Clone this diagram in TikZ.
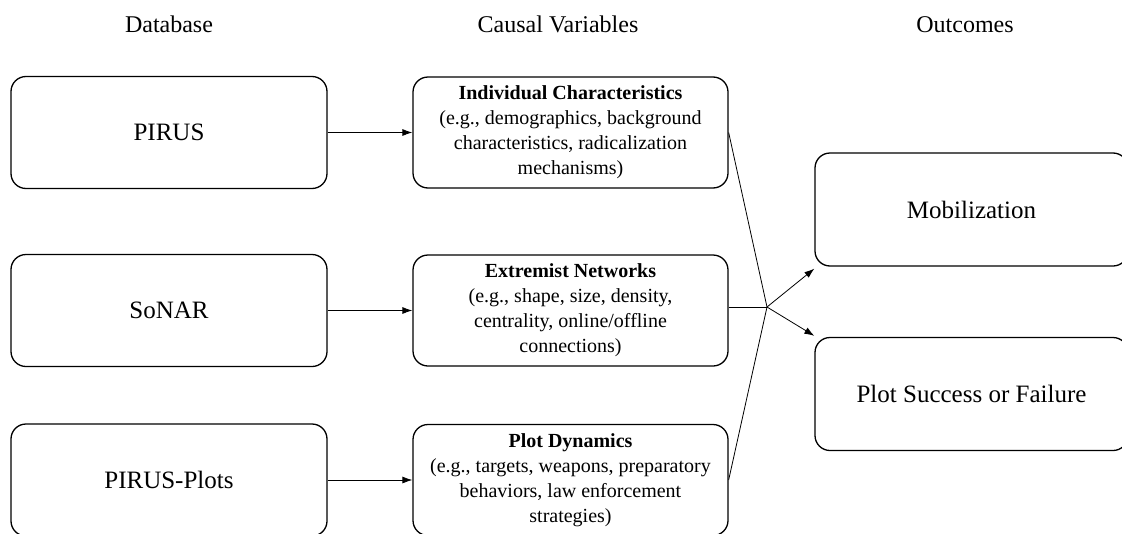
\documentclass[tikz,border=0pt]{standalone}
\usepackage{fontspec}
\setmainfont{Liberation Serif}
\usetikzlibrary{arrows.meta}
\begin{document}
\begin{tikzpicture}[
    x=1pt, y=-1pt,
    dbbox/.style={rectangle, draw, rounded corners=15pt, line width=1.3pt, minimum width=316pt, minimum height=112pt, font=\fontsize{25}{30}\selectfont},
    varbox/.style={rectangle, draw, rounded corners=15pt, line width=1.3pt, minimum width=315pt, minimum height=111pt, align=center, font=\fontsize{20}{25}\selectfont},
    outbox/.style={rectangle, draw, rounded corners=15pt, line width=1.3pt, minimum width=313pt, minimum height=113pt, font=\fontsize{25}{30}\selectfont},
    head/.style={font=\fontsize{24}{29}\selectfont, anchor=base},
    >={Latex[length=10pt,width=7pt]}
]
\useasboundingbox (0,0) rectangle (1122,533);
\clip (0,0) rectangle (1122,533);
% Spaltenueberschriften
\node[head] (h_db) at (169,32) {Database};
\node[head] (h_cv) at (558,32) {Causal Variables};
\node[head] (h_out) at (965,32) {Outcomes};

% Datenbanken
\node[dbbox] at (169,132.5) (pirus) {PIRUS};
\node[dbbox] at (169,310.5) (sonar) {SoNAR};
\node[dbbox] at (169,480) (plots) {PIRUS-Plots};

% Kausale Variablen
\node[varbox] at (570.5,132.5) (indiv) {\textbf{Individual Characteristics}\\(e.g., demographics, background\\characteristics, radicalization\\mechanisms)};
\node[varbox] at (570.5,310.5) (netw) {\textbf{Extremist Networks}\\(e.g., shape, size, density,\\centrality, online/offline\\connections)};
\node[varbox] at (570.5,480) (dyn) {\textbf{Plot Dynamics}\\(e.g., targets, weapons, preparatory\\behaviors, law enforcement\\strategies)};

% Ergebnisse
\node[outbox] at (971.5,209.5) (mobil) {Mobilization};
\node[outbox] at (971.5,394) (success) {Plot Success or Failure};

% Verbindungen
\draw[->, line width=0.8pt] (pirus.east) -- (indiv.west);
\draw[->, line width=0.8pt] (sonar.east) -- (netw.west);
\draw[->, line width=0.8pt] (plots.east) -- (dyn.west);

% Zusammenfuehrung
\coordinate (hub) at (767,307);
\draw[line width=0.8pt] (indiv.east) -- (hub);
\draw[line width=0.8pt] (netw.east |- hub) -- (hub);
\draw[line width=0.8pt] (dyn.east) -- (hub);
\draw[->, line width=0.8pt] (hub) -- ([yshift=-2pt]mobil.south west);
\draw[->, line width=0.8pt] (hub) -- ([yshift=1pt]success.north west);
\end{tikzpicture}
\end{document}
